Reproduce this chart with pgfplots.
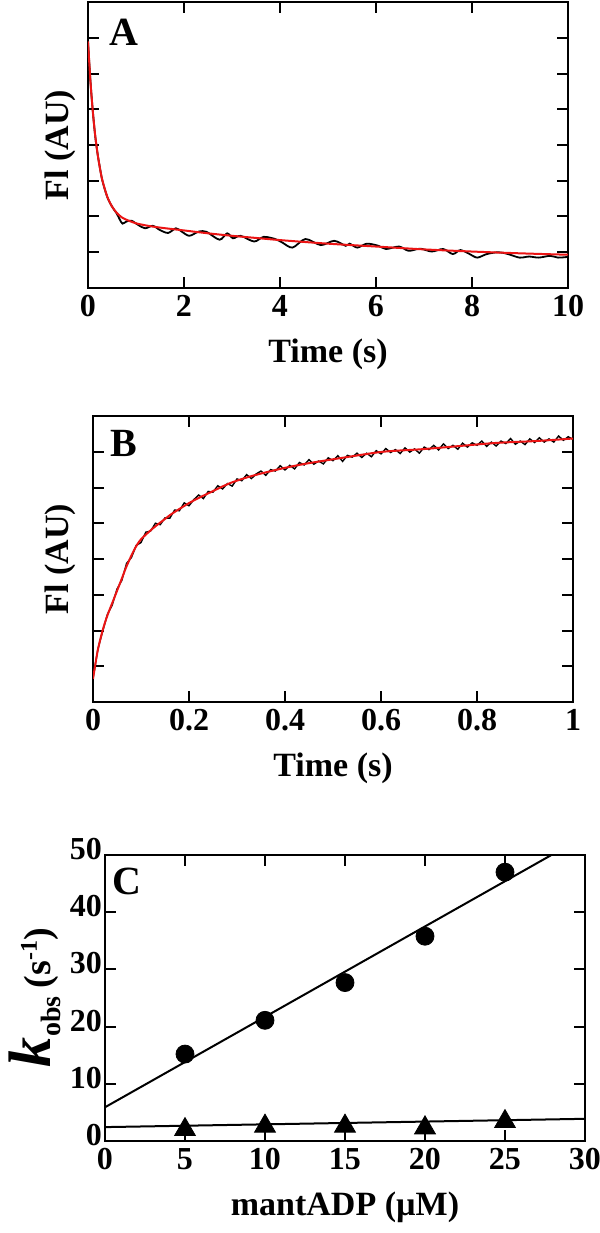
\documentclass[border=0pt]{standalone}
\usepackage{pgfplots}
\pgfplotsset{compat=1.18}
\usepackage{fontspec}
\setmainfont{Liberation Serif}
\definecolor{fitred}{RGB}{235,20,20}

\pgfplotsset{
  panel/.style={
    scale only axis, width=240pt, height=143pt,
    axis line style={line width=1pt},
    every tick/.style={line width=1pt, black},
    major tick length=5.5pt,
    tick align=inside,
    tick label style={font=\fontsize{16}{18}\selectfont\bfseries},
    /pgf/number format/assume math mode=true,
    label style={font=\fontsize{17}{19}\selectfont\bfseries},
    xlabel style={at={(axis description cs:0.5,-0.262)}, anchor=base},
    clip mode=individual,
  },
}
\tikzset{letter/.style={anchor=north west, inner sep=0pt, font=\fontsize{20}{20}\selectfont\bfseries}}

\begin{document}
\begin{tikzpicture}
\path[use as bounding box] (0,0) rectangle (300pt,-616.5pt);

% ---------- A ----------
\begin{axis}[panel, at={(44pt,-1pt)}, anchor=north west,
  xmin=0, xmax=10, ymin=0, ymax=8,
  xtick={0,2,...,10}, ytick={0,...,8}, yticklabels={,,,,,,,,},
  xlabel={Time (s)}, ylabel={Fl (AU)},
  ylabel style={at={(axis description cs:-0.04,0.5)}, anchor=base}]
\addplot[black, line width=0.9pt, smooth, tension=0.5] coordinates {
(0,6.90) (0.05,5.80) (0.1,4.95) (0.15,4.25) (0.2,3.75) (0.25,3.35) (0.3,3.00)
(0.4,2.55) (0.5,2.28) (0.6,2.08) (0.66,1.92) (0.72,1.80) (0.8,1.86) (0.91,1.88)
(1.05,1.76) (1.19,1.67) (1.35,1.74) (1.5,1.62) (1.67,1.54) (1.83,1.67) (1.95,1.58)
(2.11,1.46) (2.31,1.58) (2.47,1.57) (2.74,1.35) (2.90,1.53) (3.02,1.39) (3.18,1.46)
(3.46,1.30) (3.66,1.43) (3.90,1.37) (4.05,1.27) (4.26,1.13) (4.53,1.37) (4.85,1.20)
(5.13,1.32) (5.37,1.18) (5.45,1.24) (5.61,1.13) (5.81,1.24) (6.05,1.18) (6.21,1.09)
(6.48,1.16) (6.68,1.04) (6.92,1.10) (7.16,1.02) (7.40,1.09) (7.60,0.95) (7.76,1.06)
(7.95,0.95) (8.11,0.85) (8.31,0.95) (8.55,1.00) (8.75,0.95) (8.99,0.85) (9.19,0.88)
(9.39,0.85) (9.63,0.90) (9.79,0.85) (10,0.87)};
\addplot[fitred, line width=1pt, smooth, tension=0.5] coordinates {
(0,6.90) (0.05,5.80) (0.1,4.94) (0.15,4.27) (0.2,3.75) (0.25,3.34) (0.3,3.01)
(0.4,2.56) (0.5,2.28) (0.6,2.10) (0.7,1.98) (0.8,1.91) (1,1.81) (1.25,1.74)
(1.5,1.69) (2,1.61) (2.5,1.53) (3,1.46) (3.5,1.40) (4,1.34) (5,1.24) (6,1.16)
(7,1.08) (8,1.02) (9,0.97) (10,0.93)};
\node[letter] at (rel axis cs:0.044,0.94) {A};
\end{axis}

% ---------- B ----------
\begin{axis}[panel, at={(46.5pt,-208pt)}, anchor=north west,
  xmin=0, xmax=1, ymin=0, ymax=8,
  xtick={0,0.2,...,1}, ytick={0,...,8}, yticklabels={,,,,,,,,},
  xlabel={Time (s)}, ylabel={Fl (AU)},
  ylabel style={at={(axis description cs:-0.05,0.5)}, anchor=base}]
\addplot[black, line width=0.7pt] coordinates {
(0.00,0.65) (0.01,1.47) (0.02,1.97) (0.03,2.45) (0.04,2.71) (0.05,3.16) (0.06,3.40)
(0.07,3.88) (0.08,4.04) (0.09,4.38) (0.10,4.46) (0.11,4.75) (0.12,4.78) (0.13,5.00)
(0.14,4.96) (0.15,5.15) (0.16,5.14) (0.17,5.37) (0.18,5.35) (0.19,5.57) (0.20,5.49)
(0.21,5.66) (0.22,5.79) (0.23,5.69) (0.24,5.89) (0.25,5.87) (0.26,6.05) (0.27,5.96)
(0.28,6.11) (0.29,6.04) (0.30,6.24) (0.31,6.19) (0.32,6.36) (0.33,6.25) (0.34,6.38)
(0.35,6.46) (0.36,6.34) (0.37,6.50) (0.38,6.46) (0.39,6.61) (0.40,6.49) (0.41,6.62)
(0.42,6.52) (0.43,6.70) (0.44,6.63) (0.45,6.78) (0.46,6.65) (0.47,6.74) (0.48,6.66)
(0.49,6.83) (0.50,6.75) (0.51,6.89) (0.52,6.73) (0.53,6.90) (0.54,6.85) (0.55,6.96)
(0.56,6.84) (0.57,6.96) (0.58,6.86) (0.59,7.03) (0.60,6.94) (0.61,7.09) (0.62,6.98)
(0.63,7.06) (0.64,6.95) (0.65,7.11) (0.66,6.99) (0.67,7.08) (0.68,6.96) (0.69,7.13)
(0.70,7.06) (0.71,7.18) (0.72,7.05) (0.73,7.22) (0.74,7.09) (0.75,7.18) (0.76,7.07)
(0.77,7.24) (0.78,7.13) (0.79,7.25) (0.80,7.18) (0.81,7.30) (0.82,7.15) (0.83,7.27)
(0.84,7.16) (0.85,7.30) (0.86,7.23) (0.87,7.37) (0.88,7.21) (0.89,7.30) (0.90,7.20)
(0.91,7.36) (0.92,7.26) (0.93,7.39) (0.94,7.27) (0.95,7.36) (0.96,7.27) (0.97,7.44)
(0.98,7.32) (0.99,7.42) (1.00,7.35)};
\addplot[fitred, line width=1pt, smooth, tension=0.5] coordinates {
(0,0.65) (0.01,1.45) (0.02,2.00) (0.03,2.42) (0.046,2.97) (0.06,3.45) (0.07,3.80)
(0.086,4.26) (0.1,4.55) (0.126,4.87) (0.15,5.12) (0.166,5.28) (0.206,5.61)
(0.25,5.90) (0.285,6.12) (0.325,6.30) (0.365,6.44) (0.4,6.55) (0.445,6.67)
(0.524,6.84) (0.604,7.00) (0.684,7.07) (0.763,7.16) (0.843,7.25) (0.923,7.30) (1.0,7.37)};
\node[letter] at (rel axis cs:0.035,0.951) {B};
\end{axis}

% ---------- C ----------
\begin{axis}[panel, at={(52.5pt,-427.5pt)}, anchor=north west,
  xmin=0, xmax=30, ymin=0, ymax=50,
  xtick={0,5,...,30}, ytick={0,10,...,50},
  yticklabel style={xshift=2pt, yshift=3pt},
  xlabel={mantADP (µM)},
  ylabel={\fontsize{30}{30}\selectfont\bfseries\itshape k\hspace{0.5pt}\raisebox{-5pt}{\fontsize{14}{14}\selectfont\upshape obs}\hspace{4pt}\fontsize{19}{19}\selectfont\upshape (s\raisebox{7pt}{\fontsize{12}{12}\selectfont -1})},
  ylabel style={at={(axis description cs:-0.1125,0.5)}, anchor=base}]
\addplot[black, line width=1pt, no marks] coordinates {(0,5.9) (27.9,50)};
\addplot[black, line width=1pt, no marks] coordinates {(0,2.43) (30,3.88)};
\addplot[only marks, mark=*, mark size=4.5pt, black] coordinates {
(5,15.2) (10,21.1) (15,27.7) (20,35.8) (25,47.0)};
\addplot[only marks, mark=triangle*, mark size=6pt, black] coordinates {
(5,2.0) (10,2.6) (15,2.6) (20,2.3) (25,3.4)};
\node[letter] at (rel axis cs:0.015,0.955) {C};
\end{axis}
\end{tikzpicture}
\end{document}
